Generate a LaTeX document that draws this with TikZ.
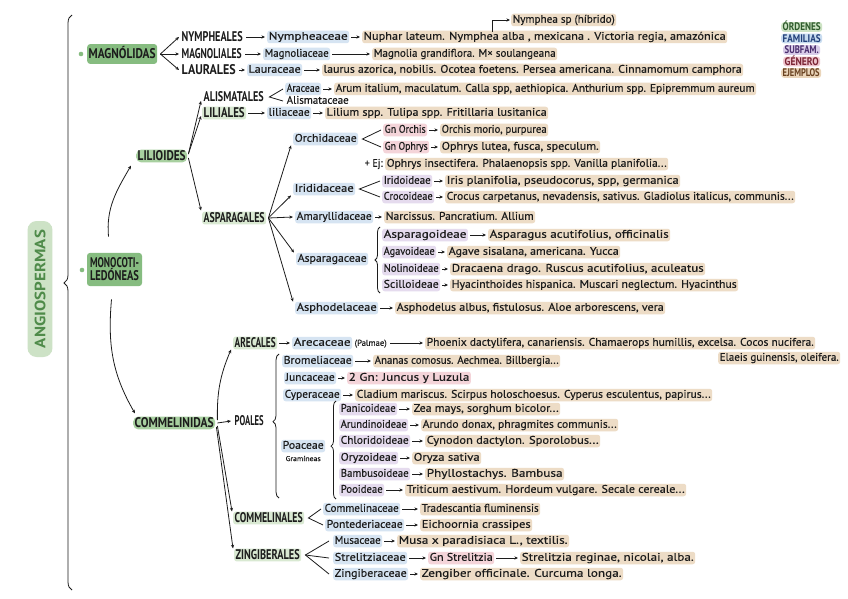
\documentclass[tikz,border=0pt]{standalone}
\usepackage{fontspec}
\setmainfont{PT Sans}[UprightFeatures={FakeBold=0.35}]
\usepackage{graphicx}
\usetikzlibrary{decorations.pathreplacing,arrows.meta,calc}
\definecolor{ordc}{HTML}{D9E9D2}
\definecolor{famc}{HTML}{D6E4F2}
\definecolor{subc}{HTML}{E5DBEE}
\definecolor{genc}{HTML}{F4D4D9}
\definecolor{exc}{HTML}{EDDCC6}
\definecolor{grn}{HTML}{86BC80}
\definecolor{grnl}{HTML}{A8D0A0}
\definecolor{angbg}{HTML}{CDE2C6}
\definecolor{angtx}{HTML}{4F8B4A}
\definecolor{ink}{HTML}{1C1C1C}
\definecolor{lgc1}{HTML}{CDE3C4}\definecolor{lgt1}{HTML}{2E5A2C}
\definecolor{lgc2}{HTML}{C8DCF0}\definecolor{lgt2}{HTML}{22407A}
\definecolor{lgc3}{HTML}{D8CCE8}\definecolor{lgt3}{HTML}{4A2E6E}
\definecolor{lgc4}{HTML}{EFC6CE}\definecolor{lgt4}{HTML}{7A2434}
\definecolor{lgc5}{HTML}{EAD5BA}\definecolor{lgt5}{HTML}{6A4322}
\newsavebox\fitbox
% exact fit (for condensed capitals)
\newcommand\fitto[2]{\sbox\fitbox{#2}\pgfmathsetmacro\fitsc{(#1)/\the\wd\fitbox}\scalebox{\fitsc}[1]{\usebox\fitbox}}
% clamped fit (for running text)
\newcommand\fitc[2]{\sbox\fitbox{#2}\pgfmathsetmacro\fitsc{max(0.8,min(1.2,(#1)/\the\wd\fitbox))}\scalebox{\fitsc}[1]{\usebox\fitbox}}
\newcommand\txn[6]{\node[anchor=west,inner xsep=1.5pt,inner ysep=1pt,text height=8pt,text depth=2.5pt,#1] (#2) at (#3,#5) {\fitc{#4-#3-3}{#6}};}
\newcommand\txo[6]{\node[anchor=west,inner xsep=1.5pt,inner ysep=1pt,text height=10pt,text depth=0.8pt,font=\bfseries\fontsize{14}{15}\selectfont,#1] (#2) at (#3,#5) {\fitto{#4-#3-3}{#6}};}
\newcommand\arw[2]{\draw[arr] ($(#1.east)+(2,0)$) -- ($(#2.west)+(-2,0)$);}
\begin{document}
\begin{tikzpicture}[x=1pt,y=-1pt,
 every node/.style={text=ink,font=\fontsize{11}{13}\selectfont},
 ord/.style={fill=ordc,rounded corners=2.5pt},
 ordn/.style={},
 ordg/.style={fill=grnl,rounded corners=5pt},
 magb/.style={fill=grn,rounded corners=3pt,inner ysep=4.5pt},
 fam/.style={fill=famc,rounded corners=2.5pt},
 sub/.style={fill=subc,rounded corners=2.5pt},
 gen/.style={fill=genc,rounded corners=2.5pt},
 ex/.style={fill=exc,rounded corners=2.5pt},
 pl/.style={},
 lg/.style={font=\bfseries\fontsize{11}{12}\selectfont,text height=8pt,text depth=0.5pt,inner ysep=0.6pt,rounded corners=3pt},
 arr/.style={-{Stealth[length=3.6pt,width=3.2pt]},line width=0.8pt,draw=ink},
 ln/.style={line width=0.8pt,draw=ink},
 brc/.style={decorate,line width=0.8pt,draw=ink}]
\fill[white] (0,0) rectangle (848,599);
\useasboundingbox (0,0) rectangle (848,599);

% legend
\txo{lg,fill=lgc1,text=lgt1}{lgO}{781}{822}{27}{ÓRDENES}
\txo{lg,fill=lgc2,text=lgt2}{lgF}{781}{822}{38.5}{FAMILIAS}
\txo{lg,fill=lgc3,text=lgt3}{lgS}{783}{820}{50}{SUBFAM.}
\txo{lg,fill=lgc4,text=lgt4}{lgG}{783}{820}{61.5}{GÉNERO}
\txo{lg,fill=lgc5,text=lgt5}{lgE}{781}{821}{73}{EJEMPLOS}

% angiospermas
\node[rotate=90,fill=angbg,rounded corners=9pt,inner xsep=9pt,inner ysep=7pt,text=angtx,font=\bfseries\fontsize{15}{16}\selectfont] (ang) at (40,289) {\fitto{118}{ANGIOSPERMAS}};
\draw[brc,decoration={brace,amplitude=8pt,aspect=0.534}] (72,590) -- (72,15);

% magnoliidas
\fill[grn] (81,54) circle (2.3);
\txo{magb}{mag}{87}{157}{54}{MAGNÓLIDAS}
\txo{ordn}{nymO}{180}{244}{37}{NYMPHEALES}
\txo{ordn}{magO}{180}{243}{54}{MAGNOLIALES}
\txo{ordn}{lauO}{180}{237}{70}{LAURALES}
\foreach \t in {nymO,magO,lauO} \draw[arr] ($(mag.east)+(3,0)$) -- ($(\t.west)+(-1,0)$);
\txn{fam}{nymF}{267}{352}{37}{Nympheaceae}
\txn{ex}{nymE}{362}{727}{37}{Nuphar lateum. Nymphea alba , mexicana . Victoria regia, amazónica}
\txn{ex}{nymH}{511}{616}{20}{Nymphea sp (híbrido)}
\coordinate (alba) at ($(nymE.north west)+(130,1)$);
\draw[arr] (alba) |- ($(nymH.west)+(-1,0)$);
\txn{fam}{magF}{263}{330}{54}{Magnoliaceae}
\txn{ex}{magE}{372}{557}{54}{Magnolia grandiflora. M× soulangeana}
\txn{fam}{lauF}{247}{302}{70}{Lauraceae}
\txn{ex}{lauE}{322}{743}{70}{laurus azorica, nobilis. Ocotea foetens. Persea americana. Cinnamomum camphora}
\arw{nymO}{nymF}\arw{nymF}{nymE}
\arw{magO}{magF}\arw{magF}{magE}
\arw{lauO}{lauF}\arw{lauF}{lauE}

% monocotiledoneas
\fill[grn] (82,270) circle (2.3);
\node[fill=grn,rounded corners=3pt,inner xsep=3pt,inner ysep=5pt,align=left,font=\bfseries\fontsize{14}{13}\selectfont] (mono) at (114.5,269.5) {\fitto{49}{MONOCOTI-}\\\fitto{49}{LEDÓNEAS}};

% lilioides
\txo{ordg}{lil}{136}{187}{156}{LILIOIDES}
\txo{ordn}{aliO}{202}{265}{97}{ALISMATALES}
\txo{ord}{liliO}{202}{246}{113}{LILIALES}
\txo{ord}{aspO}{202}{266}{218}{ASPARAGALES}
\draw[arr] ($(mono.north)+(-6,-16)$) to[out=95,in=240] ($(lil.south west)+(-5,3)$);
\draw[arr] ($(lil.east)+(1,-2)$) -- ($(aliO.west)+(-1,4)$);
\draw[arr] ($(lil.east)+(1,-2)$) -- ($(liliO.west)+(-1,3)$);
\draw[arr] ($(lil.east)+(1,2)$) -- ($(aspO.north west)+(-1,-1)$);

\txn{fam}{araF}{285}{321}{89}{Araceae}
\txn{pl}{alisF}{285}{350}{101}{Alismataceae}
\txn{ex}{araE}{334}{756}{89}{Arum italium, maculatum. Calla spp, aethiopica. Anthurium spp. Epipremmum aureum}
\draw[ln] ($(araF.west)+(-2,0)$) -- ($(aliO.east)+(4,0)$) -- ($(alisF.west)+(-2,0)$);
\arw{araF}{araE}
\txn{fam}{liliF}{267}{311}{113}{liliaceae}
\txn{ex}{liliE}{325}{548}{113}{Lilium spp. Tulipa spp. Fritillaria lusitanica}
\arw{liliO}{liliF}\arw{liliF}{liliE}

\txn{fam}{orcF}{293}{358}{139}{Orchidaceae}
\txn{gen}{orcG1}{383}{427}{130}{Gn Orchis}
\txn{ex}{orcE1}{440}{548}{130}{Orchis morio, purpurea}
\txn{gen}{orcG2}{383}{429}{147}{Gn Ophrys}
\txn{ex}{orcE2}{440}{600}{147}{Ophrys lutea, fusca, speculum.}
\txn{pl}{orcEj}{363}{384}{164}{+ Ej:}
\txn{ex}{orcE3}{385}{668}{164}{Ophrys insectifera. Phalaenopsis spp. Vanilla planifolia...}
\draw[ln] ($(orcG1.west)+(-2,0)$) -- ($(orcF.east)+(4,0)$) -- ($(orcG2.west)+(-2,0)$);
\arw{orcG1}{orcE1}\arw{orcG2}{orcE2}

\txn{fam}{iriF}{293}{355}{189}{Irididaceae}
\txn{sub}{iriS1}{382}{432}{181}{Iridoideae}
\txn{ex}{iriE1}{445}{680}{181}{Iris planifolia, pseudocorus, spp, germanica}
\txn{sub}{iriS2}{382}{434}{197}{Crocoideae}
\txn{ex}{iriE2}{445}{795}{197}{Crocus carpetanus, nevadensis, sativus. Gladiolus italicus, communis...}
\draw[ln] ($(iriS1.west)+(-2,0)$) -- ($(iriF.east)+(4,0)$) -- ($(iriS2.west)+(-2,0)$);
\arw{iriS1}{iriE1}\arw{iriS2}{iriE2}

\txn{fam}{amaF}{295}{373}{217}{Amaryllidaceae}
\txn{ex}{amaE}{384}{535}{217}{Narcissus. Pancratium. Allium}
\arw{amaF}{amaE}
\txn{fam}{aspF}{296}{368}{259}{Asparagaceae}
\txn{sub}{aspS1}{382}{468}{235}{Asparagoideae}
\txn{ex}{aspE1}{488}{670}{235}{Asparagus acutifolius, officinalis}
\txn{sub}{aspS2}{382}{436}{252}{Agavoideae}
\txn{ex}{aspE2}{447}{620}{252}{Agave sisalana, americana. Yucca}
\txn{sub}{aspS3}{382}{440}{269}{Nolinoideae}
\txn{ex}{aspE3}{450}{705}{269}{Dracaena drago. Ruscus acutifolius, aculeatus}
\txn{sub}{aspS4}{382}{440}{285}{Scilloideae}
\txn{ex}{aspE4}{450}{738}{285}{Hyacinthoides hispanica. Muscari neglectum. Hyacinthus}
\arw{aspS1}{aspE1}\arw{aspS2}{aspE2}\arw{aspS3}{aspE3}\arw{aspS4}{aspE4}
\draw[brc,decoration={brace,amplitude=5pt,aspect=0.5}] (380,293) -- (380,227);
\txn{fam}{aphF}{295}{378}{308}{Asphodelaceae}
\txn{ex}{aphE}{395}{665}{308}{Asphodelus albus, fistulosus. Aloe arborescens, vera}
\arw{aphF}{aphE}
\foreach \t in {orcF.south west,iriF.south west,amaF.west,aspF.north west,aphF.north west}
  \draw[arr] ($(aspO.east)+(2,0)$) -- ($(\t)+(-2,0)$);

% commelinidas
\txo{ordg}{com}{133}{215}{423}{COMMELINIDAS}
\draw[arr] ($(mono.south)+(-3,13)$) to[out=265,in=120] ($(com.north west)+(2,-3)$);
\txo{ord}{areO}{233}{277}{343}{ARECALES}
\txn{fam}{areF}{292}{352}{343}{Arecaceae}
\txn{pl,font=\fontsize{8.5}{10}\selectfont}{areP}{353}{388}{343}{(Palmae)}
\txn{ex}{areE}{425}{815}{343}{Phoenix dactylifera, canariensis. Chamaerops humillis, excelsa. Cocos nucifera.}
\txn{ex}{areE2}{718}{840}{358}{Elaeis guinensis, oleifera.}
\arw{areO}{areF}\arw{areP}{areE}
\txo{ordn}{poaO}{233}{265}{421}{POALES}
\draw[brc,decoration={brace,amplitude=6pt,aspect=0.53}] (279,498) -- (279,354);
\txn{fam}{broF}{282}{353}{361}{Bromeliaceae}
\txn{ex}{broE}{373}{560}{361}{Ananas comosus. Aechmea. Billbergia...}
\txn{fam}{junF}{284}{336}{378}{Juncaceae}
\txn{gen}{junG}{347}{481}{378}{2 Gn: Juncus y Luzula}
\txn{fam}{cypF}{283}{341}{395}{Cyperaceae}
\txn{ex}{cypE}{355}{712}{395}{Cladium mariscus. Scirpus holoschoesus. Cyperus esculentus, papirus...}
\arw{broF}{broE}\arw{junF}{junG}\arw{cypF}{cypE}
\txn{fam}{poaF}{281}{325}{446}{Poaceae}
\txn{pl,font=\fontsize{7}{8}\selectfont,text height=5pt,text depth=1pt}{gram}{284}{322}{459}{Gramíneas}
\draw[brc,decoration={brace,amplitude=5pt,aspect=0.54}] (336,499) -- (336,401);
\txn{sub}{s1}{339}{397}{409}{Panicoideae}
\txn{ex}{e1}{412}{560}{409}{Zea mays, sorghum bicolor...}
\txn{sub}{s2}{339}{408}{425}{Arundinoideae}
\txn{ex}{e2}{421}{618}{425}{Arundo donax, phragmites communis...}
\txn{sub}{s3}{339}{410}{441}{Chloridoideae}
\txn{ex}{e3}{425}{600}{441}{Cynodon dactylon. Sporolobus...}
\txn{sub}{s4}{339}{398}{458}{Oryzoideae}
\txn{ex}{e4}{412}{481}{458}{Oryza sativa}
\txn{sub}{s5}{339}{410}{474}{Bambusoideae}
\txn{ex}{e5}{425}{565}{474}{Phyllostachys. Bambusa}
\txn{sub}{s6}{339}{384}{490}{Pooideae}
\txn{ex}{e6}{405}{686}{490}{Triticum aestivum. Hordeum vulgare. Secale cereale...}
\arw{s1}{e1}\arw{s2}{e2}\arw{s3}{e3}\arw{s4}{e4}\arw{s5}{e5}\arw{s6}{e6}

\txo{ord}{comO}{233}{304}{518}{COMMELINALES}
\txn{fam}{cmF1}{323}{400}{509}{Commelinaceae}
\txn{ex}{cmE1}{420}{540}{509}{Tradescantia fluminensis}
\txn{fam}{cmF2}{325}{404}{525}{Pontederiaceae}
\txn{ex}{cmE2}{420}{532}{525}{Eichoornia crassipes}
\draw[ln] ($(cmF1.west)+(-2,0)$) -- ($(comO.east)+(4,0)$) -- ($(cmF2.west)+(-2,0)$);
\arw{cmF1}{cmE1}\arw{cmF2}{cmE2}

\txo{ord}{zinO}{234}{301}{555}{ZINGIBERALES}
\txn{fam}{zF1}{333}{382}{541}{Musaceae}
\txn{ex}{zE1}{397}{580}{541}{Musa x paradisiaca L., textilis.}
\txn{fam}{zF2}{333}{407}{558}{Strelitziaceae}
\txn{gen}{zG2}{428}{494}{558}{Gn Strelitzia}
\txn{ex}{zE2}{520}{695}{558}{Strelitzia reginae, nicolai, alba.}
\txn{fam}{zF3}{333}{408}{574}{Zingiberaceae}
\txn{ex}{zE3}{420}{625}{574}{Zengiber officinale. Curcuma longa.}
\draw[ln] ($(zF1.west)+(-4,0)$) -- ($(zinO.east)+(4,0)$) -- ($(zF3.west)+(-4,0)$);
\draw[ln] ($(zinO.east)+(4,0)$) -- ($(zF2.west)+(-4,0)$);
\arw{zF1}{zE1}\arw{zF2}{zG2}\arw{zG2}{zE2}\arw{zF3}{zE3}

\draw[arr] ($(com.east)+(2,-3)$) to[bend left=12] ($(areO.south west)+(-2,0)$);
\draw[arr] ($(com.east)+(2,0)$) -- ($(poaO.west)+(-2,0)$);
\draw[arr] ($(com.east)+(2,3)$) -- ($(comO.north west)+(-1,0)$);
\draw[arr] ($(com.east)+(1,4)$) -- ($(zinO.north west)+(-1,0)$);
\end{tikzpicture}
\end{document}
